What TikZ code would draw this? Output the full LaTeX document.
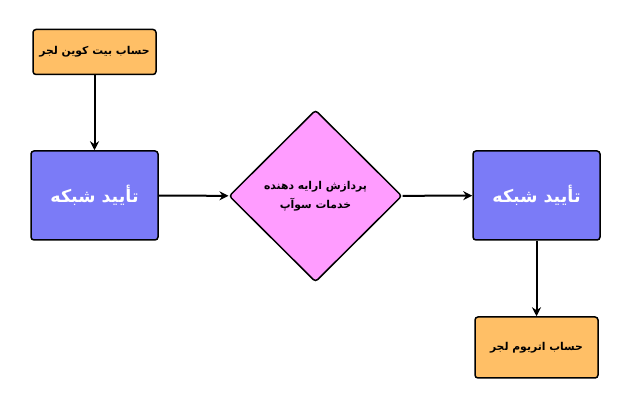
\documentclass[tikz,border=0pt]{standalone}
\usepackage{fontspec}
\usepackage{tikz}
\usetikzlibrary{arrows.meta,shapes.geometric}
\TeXXeTstate=1
\newfontfamily\arabicfont[Script=Arabic]{DejaVu Sans}
\definecolor{ledgerorange}{HTML}{FFBF66}
\definecolor{netblue}{HTML}{7B7BF7}
\definecolor{swappink}{HTML}{FF9CFF}

\begin{document}
\begin{tikzpicture}[x=1pt,y=-1pt,
	account/.style={draw,rounded corners=3pt,fill=ledgerorange,line width=1.5pt,inner sep=1pt,font=\arabicfont\bfseries\fontsize{10.8}{13}\selectfont},
	network/.style={draw,rounded corners=3pt,fill=netblue,line width=1.5pt,minimum width=127pt,minimum height=89pt,text=white,font=\arabicfont\bfseries\fontsize{17.5}{21}\selectfont},
	swap/.style={draw,diamond,aspect=1,rounded corners=3pt,fill=swappink,line width=1.5pt,minimum width=173pt,minimum height=172pt,align=center,inner sep=0pt,font=\arabicfont\bfseries\fontsize{10.8}{18.5}\selectfont},
	flow/.style={-{Stealth[length=9pt,width=9pt]},line width=2pt}]
	\useasboundingbox (0,0) rectangle (627,411);
	\coordinate (b1) at (94.5,52);
	\coordinate (n1) at (94.5,195.5);
	\coordinate (sw) at (315.5,196);
	\coordinate (n2) at (536.5,195.5);
	\coordinate (e1) at (536.5,347.5);
	\node[account,minimum width=123pt,minimum height=45pt] (BtcLedger) at (b1){\beginR حساب بیت کوین لجر\endR};
	\node[network] (NetCheckA) at (n1){\beginR تأیید شبکه\endR};
	\node[swap] (SwapProvider) at (sw){\beginR پردازش ارایه دهنده\endR\\\beginR خدمات سوآپ\endR};
	\node[network] (NetCheckB) at (n2){\beginR تأیید شبکه\endR};
	\node[account,minimum width=123pt,minimum height=61pt] (EthLedger) at (e1){\beginR حساب اتریوم لجر\endR};
	\draw[flow] (BtcLedger) -- (NetCheckA);
	\draw[flow] (NetCheckA) -- (SwapProvider);
	\draw[flow] (SwapProvider) -- (NetCheckB);
	\draw[flow] (NetCheckB) -- (EthLedger);
\end{tikzpicture}
\end{document}
